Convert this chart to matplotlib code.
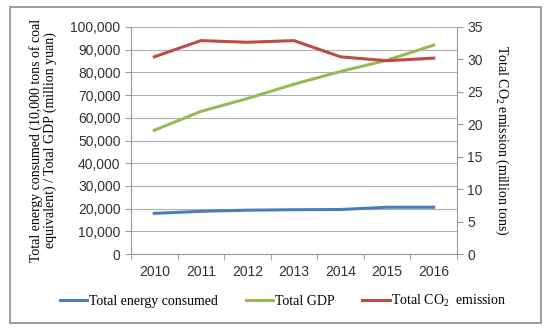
import matplotlib.pyplot as plt
from matplotlib.patches import Rectangle
from matplotlib.ticker import FuncFormatter, FixedLocator

# data
years = ['2010', '2011', '2012', '2013', '2014', '2015', '2016']
energy = [17900, 18800, 19300, 19500, 19600, 20600, 20600]
gdp = [54500, 62800, 68500, 74800, 80400, 85400, 92000]
co2 = [30.4, 32.9, 32.65, 32.9, 30.4, 29.8, 30.2]

blue = '#4A7EBB'
green = '#98B954'
red = '#BE4B48'
grey = '#9a9a9a'

serif = 'Liberation Serif'
sans = 'Liberation Sans'

plt.rcParams['mathtext.fontset'] = 'custom'
plt.rcParams['mathtext.rm'] = serif

fig = plt.figure(figsize=(5.5, 3.32), dpi=100)
fig.patches.append(Rectangle((10 / 550, 1 - 323 / 332), 531 / 550, 316 / 332,
                             transform=fig.transFigure, fill=False,
                             edgecolor='#8c8c8c', linewidth=1.2))

ax = fig.add_axes([131 / 550, 1 - 254 / 332, 326 / 550, 227 / 332])
x = list(range(len(years)))
l1, = ax.plot(x, energy, color=blue, lw=2.2, label='Total energy consumed')
l2, = ax.plot(x, gdp, color=green, lw=2.2, label='Total GDP')
ax.set_xlim(-0.5, 6.5)
ax.set_ylim(0, 100000)
ax.set_yticks(range(0, 100001, 10000))
ax.yaxis.set_major_formatter(FuncFormatter(lambda v, p: f'{int(v):,}'))
ax.set_xticks(x)
ax.set_xticklabels(years)
ax.xaxis.set_minor_locator(FixedLocator([i + 0.5 for i in range(-1, 7)]))
ax.tick_params(axis='x', which='major', length=0, pad=8)
ax.tick_params(axis='x', which='minor', length=4, color=grey)
ax.tick_params(axis='y', length=4, color=grey)
ax.grid(axis='y', color='#b0b0b0', lw=0.8)
ax.set_axisbelow(True)
for s in ['top', 'right']:
    ax.spines[s].set_visible(False)
for s in ['left', 'bottom']:
    ax.spines[s].set_color(grey)
for lab in ax.get_xticklabels() + ax.get_yticklabels():
    lab.set_fontfamily(sans)
    lab.set_fontsize(10)
    lab.set_color('#333333')
ax.set_ylabel('Total energy consumed (10,000 tons of coal\nequivalent) / Total GDP (million yuan)',
              fontfamily=serif, fontsize=10, labelpad=10, linespacing=1.0)

ax2 = ax.twinx()
l3, = ax2.plot(x, co2, color=red, lw=2.2, label='Total CO$_2$  emission')
ax2.set_ylim(0, 35)
ax2.set_yticks(range(0, 36, 5))
ax2.tick_params(axis='y', length=4, color=grey)
for s in ['top', 'left', 'bottom']:
    ax2.spines[s].set_visible(False)
ax2.spines['right'].set_color(grey)
for lab in ax2.get_yticklabels():
    lab.set_fontfamily(sans)
    lab.set_fontsize(10)
    lab.set_color('#333333')
ax2.set_ylabel('Total CO$_2$ emission (million tons)', fontfamily=serif,
               fontsize=10, rotation=270, labelpad=20)

fig.legend([l1, l2, l3], [l.get_label() for l in (l1, l2, l3)],
           loc='center', bbox_to_anchor=(0.515, 1 - 301 / 332), ncol=3,
           frameon=False, prop={'family': serif, 'size': 10},
           handlelength=2.0, handletextpad=0.1, columnspacing=2.0)

fig.savefig('out.png', dpi=100)
